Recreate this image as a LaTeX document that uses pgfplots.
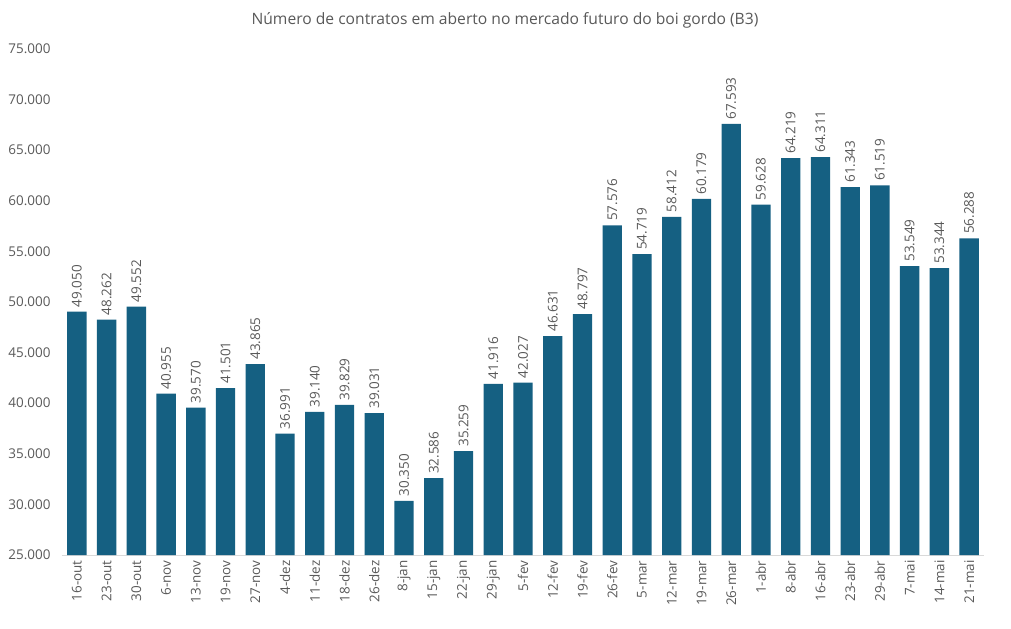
\documentclass[border=0pt]{standalone}
\usepackage{fontspec}
\setmainfont{Open Sans}
\usepackage{pgfplots}
\pgfplotsset{compat=1.18}
\definecolor{barblue}{HTML}{156082}
\definecolor{txtgray}{HTML}{595959}
\definecolor{axgray}{HTML}{D9D9D9}
\begin{document}
\begin{tikzpicture}[x=1bp,y=1bp]
\begin{axis}[
  at={(0,0)}, anchor=south west,
  scale only axis,
  width=922bp, height=506bp,
  ymin=25000, ymax=75000,
  ytick distance=5000,
  xmin=-0.5, xmax=30.5,
  xtick=data,
  xticklabels={16-out,23-out,30-out,6-nov,13-nov,19-nov,27-nov,4-dez,11-dez,18-dez,26-dez,8-jan,15-jan,22-jan,29-jan,5-fev,12-fev,19-fev,26-fev,5-mar,12-mar,19-mar,26-mar,1-abr,8-abr,16-abr,23-abr,29-abr,7-mai,14-mai,21-mai},
  axis x line*=bottom,
  axis y line*=left,
  x axis line style={axgray, line width=0.8bp, -},
  y axis line style={draw=none},
  major tick length=0pt,
  scaled y ticks=false,
  /pgf/number format/.cd, 1000 sep={.}, fixed, assume math mode=true,
  /pgfplots/.cd,
  yticklabel style={font=\fontsize{13.5}{13.5}\selectfont, text=txtgray, xshift=-8bp},
  xticklabel style={font=\fontsize{13.5}{13.5}\selectfont, text=txtgray, rotate=90, anchor=east, xshift=-2bp},
  ybar, bar width=0.65,
  nodes near coords,
  every node near coord/.append style={font=\fontsize{13.5}{13.5}\selectfont, text=txtgray, rotate=90, anchor=west, xshift=1bp},
  clip=false,
]
\addplot[fill=barblue, draw=none] coordinates {
(0,49050)(1,48262)(2,49552)(3,40955)(4,39570)(5,41501)(6,43865)(7,36991)
(8,39140)(9,39829)(10,39031)(11,30350)(12,32586)(13,35259)(14,41916)(15,42027)
(16,46631)(17,48797)(18,57576)(19,54719)(20,58412)(21,60179)(22,67593)(23,59628)
(24,64219)(25,64311)(26,61343)(27,61519)(28,53549)(29,53344)(30,56288)
};
\end{axis}
\node[font=\fontsize{15.7}{15.7}\selectfont, text=txtgray] at (443bp,535bp) {Número de contratos em aberto no mercado futuro do boi gordo (B3)};
\pgfresetboundingbox
\path (-62bp,-74bp) rectangle (949bp,555bp);
\end{tikzpicture}
\end{document}
